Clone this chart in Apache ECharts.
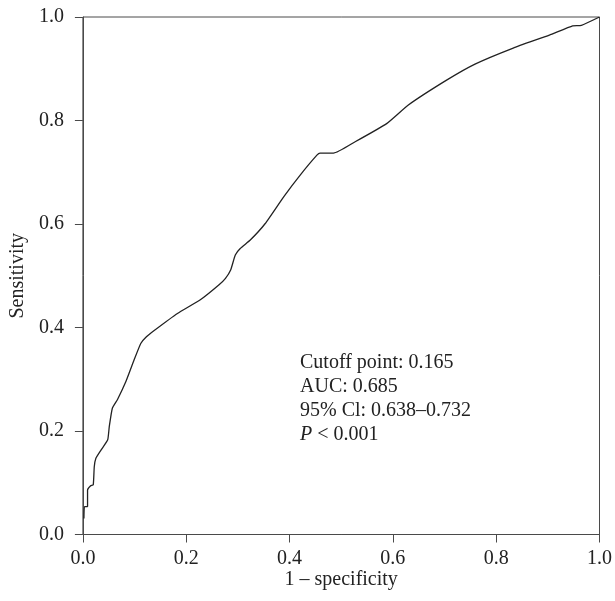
<!DOCTYPE html>
<html>
<head>
<meta charset="utf-8">
<script src="https://cdn.jsdelivr.net/npm/echarts@6/dist/echarts.min.js"></script>
<style>
html,body{margin:0;padding:0;background:#fff;}
#chart{width:615px;height:601px;}
</style>
</head>
<body>
<div id="chart"></div>
<script>
// 1 - specificity values along the ROC curve
const fpr = [0.002, 0.003, 0.009, 0.009, 0.015, 0.020, 0.022, 0.025, 0.035, 0.048, 0.051, 0.057, 0.067,
  0.083, 0.099, 0.112, 0.122, 0.138, 0.183, 0.228, 0.263, 0.276, 0.286, 0.295, 0.305, 0.324,
  0.353, 0.389, 0.421, 0.453, 0.459, 0.485, 0.527, 0.588, 0.630, 0.704, 0.759, 0.833, 0.903,
  0.948, 0.965, 1.0];
// sensitivity values along the ROC curve
const tpr = [0.031, 0.054, 0.054, 0.086, 0.094, 0.096, 0.131, 0.147, 0.163, 0.183, 0.208, 0.244, 0.261,
  0.295, 0.337, 0.369, 0.381, 0.394, 0.427, 0.454, 0.482, 0.495, 0.511, 0.540, 0.553, 0.569,
  0.601, 0.653, 0.695, 0.733, 0.737, 0.737, 0.759, 0.794, 0.830, 0.878, 0.909, 0.940, 0.965,
  0.983, 0.984, 1.0];
const xTicks = ['0.0', '0.2', '0.4', '0.6', '0.8', '1.0'];
const yTicks = ['0.0', '0.2', '0.4', '0.6', '0.8', '1.0'];
const annotationLines = ['Cutoff point: 0.165', 'AUC: 0.685', '95% Cl: 0.638–0.732', '{i|P} < 0.001'];

const FONT = "'Liberation Serif', 'DejaVu Serif', serif";
const FS = 20;
const TXT = '#222';
const AX = '#4a4a4a';

const chart = echarts.init(document.getElementById('chart'), null, {renderer: 'canvas'});
chart.setOption({
  animation: false,
  backgroundColor: '#fff',
  grid: {left: 82, right: 15, top: 17, bottom: 66.5, show: true, borderColor: AX, borderWidth: 1, backgroundColor: 'transparent'},
  xAxis: {
    type: 'value', min: 0, max: 1, interval: 0.2,
    name: '1 – specificity', nameLocation: 'middle', nameGap: 35, nameMoveOverlap: false,
    nameTextStyle: {fontFamily: FONT, fontSize: FS, color: TXT},
    axisLine: {show: true, onZero: false, lineStyle: {color: AX, width: 1}},
    axisTick: {show: true, length: 8, inside: false, lineStyle: {color: AX, width: 1}},
    axisLabel: {margin: 14, fontFamily: FONT, fontSize: FS, color: TXT,
      formatter: v => xTicks[Math.round(v / 0.2)]},
    splitLine: {show: false}
  },
  yAxis: {
    type: 'value', min: 0, max: 1, interval: 0.2,
    name: 'Sensitivity', nameLocation: 'middle', nameGap: 54, nameRotate: 90,
    nameTextStyle: {fontFamily: FONT, fontSize: FS, color: TXT},
    axisLine: {show: true, onZero: false, lineStyle: {color: AX, width: 1}},
    axisTick: {show: true, length: 8, inside: false, lineStyle: {color: AX, width: 1}},
    axisLabel: {margin: 19, fontFamily: FONT, fontSize: FS, color: TXT,
      formatter: v => yTicks[Math.round(v / 0.2)]},
    splitLine: {show: false}
  },
  series: [{
    type: 'line',
    data: fpr.map((x, i) => [x, tpr[i]]),
    showSymbol: false,
    symbol: 'none',
    smooth: 0.15,
    lineStyle: {color: '#222', width: 1.3},
    z: 3
  }],
  graphic: [{
    type: 'text',
    left: 300,
    top: 351,
    style: {
      text: annotationLines.join('\n'),
      fontFamily: FONT,
      fontSize: FS,
      lineHeight: 24,
      fill: TXT,
      rich: {i: {fontStyle: 'italic', fontFamily: FONT, fontSize: FS, fill: TXT, lineHeight: 24}}
    }
  }]
});
</script>
</body>
</html>
